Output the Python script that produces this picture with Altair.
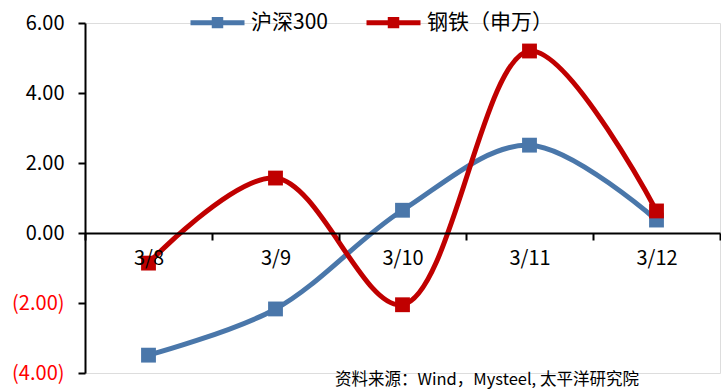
import altair as alt
import pandas as pd

# Daily change (%) by trading day
dates = ["3/8", "3/9", "3/10", "3/11", "3/12"]
hs300 = [-3.49, -2.17, 0.65, 2.51, 0.37]
steel = [-0.86, 1.57, -2.05, 5.20, 0.63]
series_names = ["沪深300", "钢铁（申万）"]
series_colors = ["#4A77AA", "#C00000"]

rows = []
for name, vals in zip(series_names, [hs300, steel]):
    for d, v in zip(dates, vals):
        rows.append({"date": d, "value": v, "series": name})
df = pd.DataFrame(rows)

FONT = "Noto Sans CJK SC"

x_enc = alt.X(
    "date:N",
    sort=dates,
    scale=alt.Scale(type="band", paddingInner=0, paddingOuter=0),
    axis=alt.Axis(
        title=None, orient="bottom", offset=-140, labelAngle=0,
        tickBand="extent", domainColor="black", domainWidth=2,
        tickColor="black", tickWidth=2, tickSize=7, labelPadding=8,
        labelFontSize=20, labelFont=FONT, labelColor="black", zindex=1,
    ),
)
y_enc = alt.Y(
    "value:Q",
    scale=alt.Scale(domain=[-4, 6], nice=False, zero=False),
    axis=alt.Axis(
        title=None, values=[-4, -2, 0, 2, 4, 6], grid=False,
        domainColor="black", domainWidth=2, tickColor="black", tickWidth=2,
        tickSize=7, labelPadding=14, labelFontSize=20, labelFont=FONT,
        labelExpr="datum.value < 0 ? '(' + format(-datum.value, '.2f') + ')' : format(datum.value, '.2f') + '\u00a0'",
        labelColor=alt.condition("datum.value < 0", alt.value("#FF0000"), alt.value("black")),
    ),
)

# legend glyph: a short line with a small square in the middle
legend_path = "M-1,0H1M-0.12,-0.12H0.12V0.12H-0.12Z"
color_scale = alt.Scale(domain=series_names, range=series_colors)

lines = alt.Chart(df).mark_line(interpolate="catmull-rom", strokeWidth=5).encode(
    x=x_enc, y=y_enc,
    stroke=alt.Stroke("series:N", scale=color_scale, sort=series_names,
                      legend=alt.Legend(
                          title=None, orient="none", direction="horizontal",
                          legendX=103, legendY=-30, symbolType=legend_path,
                          symbolSize=2916, symbolStrokeWidth=5, labelFontSize=21,
                          labelFont=FONT, labelColor="black", columnPadding=28,
                          labelOffset=4, padding=0)),
    detail="series:N",
)
points = alt.Chart(df).mark_point(shape="square", filled=True, size=220, opacity=1).encode(
    x=x_enc, y=y_enc,
    fill=alt.Fill("series:N", scale=color_scale, sort=series_names, legend=None),
)

source = alt.Chart(pd.DataFrame({"t": ["资料来源：Wind，Mysteel, 太平洋研究院"]})).mark_text(
    align="left", baseline="middle", fontSize=16.5, font=FONT, color="black"
).encode(x=alt.value(250), y=alt.value(357), text="t:N")

chart = alt.layer(lines, points, source).resolve_scale(stroke="shared").properties(
    width=635, height=350,
    autosize=alt.AutoSizeParams(type="none"),
    padding={"left": 85, "top": 23, "right": 1, "bottom": 16},
).configure_view(stroke=None).configure(background="white")

chart.save("out.html", embed_options={"renderer": "svg", "actions": False})
